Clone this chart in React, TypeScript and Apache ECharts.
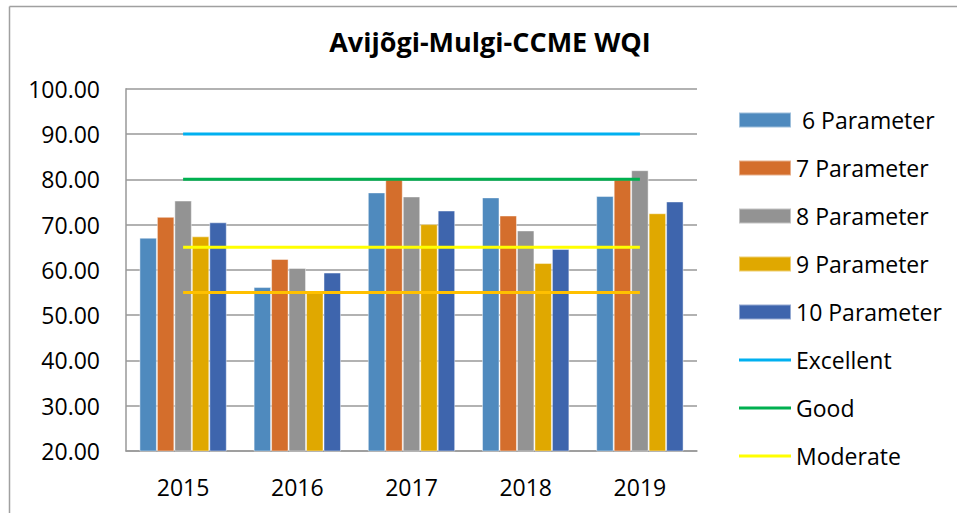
import React, { useEffect, useRef } from "react";
import * as echarts from "echarts";

const years = ["2015", "2016", "2017", "2018", "2019"];
const p6 = [67.1, 56.2, 77.1, 76.0, 76.3];
const p7 = [71.7, 62.4, 80.4, 72.0, 80.0];
const p8 = [75.3, 60.4, 76.2, 68.7, 82.0];
const p9 = [67.4, 55.4, 70.1, 61.5, 72.5];
const p10 = [70.5, 59.4, 73.1, 64.6, 75.1];
const excellent = [90, 90, 90, 90, 90];
const good = [80, 80, 80, 80, 80];
const moderate = [65, 65, 65, 65, 65];
const marginal = [55, 55, 55, 55, 55];

const barNames = [" 6 Parameter", "7 Parameter", "8 Parameter", "9 Parameter", "10 Parameter"];
const barData = [p6, p7, p8, p9, p10];
const barColors = ["#4F8ABE", "#D46E2C", "#939393", "#E0A800", "#3E65AD"];
const lineNames = ["Excellent", "Good", "Moderate", "Marginal"];
const lineData = [excellent, good, moderate, marginal];
const lineColors = ["#00B0F0", "#00B050", "#FFFF00", "#FFC000"];
const legendLines = ["Excellent", "Good", "Moderate"];

const FONT = "'Open Sans', 'Liberation Sans', sans-serif";

export default function App() {
  const ref = useRef<HTMLDivElement>(null);
  useEffect(() => {
    document.body.style.margin = "0";
    const chart = echarts.init(ref.current!, undefined, { renderer: "svg" });
    const series: any[] = [];
    barData.forEach((d, i) => {
      series.push({
        name: barNames[i],
        type: "bar",
        data: d,
        barGap: "0%",
        barCategoryGap: "23.5%",
        itemStyle: { color: barColors[i], borderColor: "rgba(255,255,255,0.45)", borderWidth: 1 },
        z: 2,
      });
    });
    lineData.forEach((d, i) => {
      series.push({
        name: lineNames[i],
        type: "line",
        data: d,
        symbol: "none",
        lineStyle: { color: lineColors[i], width: 3 },
        itemStyle: { color: lineColors[i] },
        z: 5,
      });
    });
    const legendData: any[] = [
      ...barNames.map((n) => ({ name: n, icon: "rect" })),
      ...legendLines.map((n) => ({ name: n, icon: "path://M0,0 L52,0 L52,3 L0,3 Z" })),
    ];
    chart.setOption({
      animation: false,
      backgroundColor: "#ffffff",
      title: {
        text: "Avijõgi-Mulgi-CCME WQI",
        left: 490,
        textAlign: "center",
        top: 28,
        padding: 0,
        textStyle: { fontFamily: FONT, fontWeight: "bold", fontSize: 27, color: "#000" },
      },
      legend: {
        orient: "vertical",
        left: 738,
        top: 108,
        padding: 0,
        itemWidth: 52,
        itemHeight: 15,
        itemGap: 24,
        data: legendData,
        textStyle: { fontFamily: FONT, fontSize: 23, color: "#000", lineHeight: 24 },
      },
      grid: { left: 126, right: 260, top: 88.7, bottom: 62, containLabel: false },
      xAxis: {
        type: "category",
        data: years,
        axisLine: { show: true, lineStyle: { color: "#999", width: 1.5 } },
        axisTick: { show: false },
        axisLabel: { margin: 24, fontFamily: FONT, fontSize: 23, color: "#000" },
      },
      yAxis: {
        type: "value",
        min: 20,
        max: 100,
        interval: 10,
        axisLine: { show: true, lineStyle: { color: "#999", width: 1.5 } },
        axisTick: { show: false },
        splitLine: { show: true, lineStyle: { color: "#999", width: 1.5 } },
        axisLabel: {
          margin: 26,
          fontFamily: FONT,
          fontSize: 23,
          color: "#000",
          formatter: (v: number) => v.toFixed(2),
        },
      },
      graphic: [
        { type: "line", shape: { x1: 9.5, y1: 6.5, x2: 957, y2: 6.5 }, style: { stroke: "#A0A0A0", lineWidth: 1.5 } },
        { type: "line", shape: { x1: 9.5, y1: 6.5, x2: 9.5, y2: 513 }, style: { stroke: "#A0A0A0", lineWidth: 1.5 } },
      ],
      series,
    });
    return () => chart.dispose();
  }, []);
  return <div ref={ref} style={{ width: 957, height: 513 }} />;
}
